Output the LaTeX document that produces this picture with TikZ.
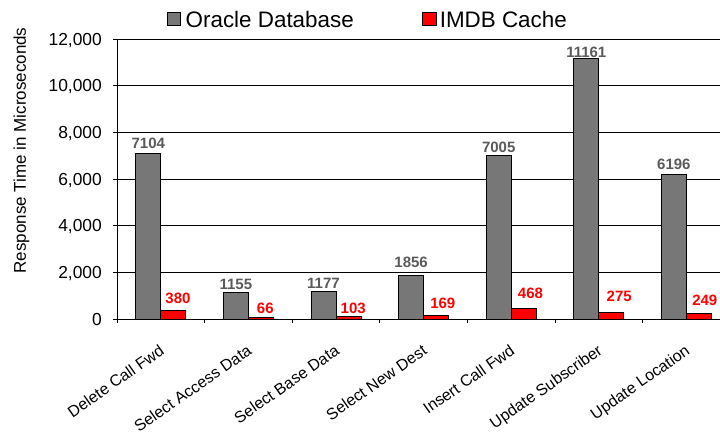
\documentclass[tikz,border=0pt]{standalone}
\usepackage{fontspec}
\setmainfont{Liberation Sans}
\usepackage{tikz}
\definecolor{oraclegray}{HTML}{777777}
\definecolor{labelgray}{HTML}{5A5A5A}
\tikzset{
  gridline/.style={line width=0.8pt},
  oraclebar/.style={draw=black, line width=0.8pt, fill=oraclegray},
  imdbbar/.style={draw=black, line width=0.8pt, fill=red},
  ticklabel/.style={anchor=east, inner sep=0pt, text height=12.5pt, text depth=0pt, font=\fontsize{17.4}{20}\selectfont},
  catlabel/.style={anchor=north east, inner sep=0pt, rotate=35, font=\fontsize{16}{19}\selectfont},
  graylabel/.style={inner sep=0pt, text height=10.7pt, text depth=0pt, text=labelgray, font=\fontsize{15}{18}\selectfont\bfseries},
  redlabel/.style={graylabel, text=red},
  legendtext/.style={anchor=west, inner sep=0pt, text height=16pt, text depth=0pt, font=\fontsize{22.4}{26}\selectfont},
}

\begin{document}
\begin{tikzpicture}[x=1pt, y=-1pt]
    \useasboundingbox (0,0) rectangle (720,433);

    % legend
    \draw[oraclebar] (167,12.3) rectangle (180.5,25.8);
    \node[legendtext] (leg oracle) at (185.5,19.2) {Oracle Database};
    \draw[imdbbar] (422.5,12.3) rectangle (436,25.8);
    \node[legendtext] (leg imdb) at (439.6,19.2) {IMDB Cache};

    % grid
    \draw[gridline] (117,39) -- (720,39);
    \draw[gridline] (117,85.67) -- (720,85.67);
    \draw[gridline] (117,132.33) -- (720,132.33);
    \draw[gridline] (117,179) -- (720,179);
    \draw[gridline] (117,225.67) -- (720,225.67);
    \draw[gridline] (117,272.33) -- (720,272.33);

    % bars, in microseconds
    \begin{scope}[shift={(117,319)}, y=0.0233333pt]
      \draw[oraclebar] (18.8,0) rectangle (43.8,7104);
      \draw[imdbbar] (43.8,0) rectangle (68.8,380);
      \draw[oraclebar] (106.4,0) rectangle (131.4,1155);
      \draw[imdbbar] (131.4,0) rectangle (156.4,66);
      \draw[oraclebar] (194,0) rectangle (219,1177);
      \draw[imdbbar] (219,0) rectangle (244,103);
      \draw[oraclebar] (281.6,0) rectangle (306.6,1856);
      \draw[imdbbar] (306.6,0) rectangle (331.6,169);
      \draw[oraclebar] (369.2,0) rectangle (394.2,7005);
      \draw[imdbbar] (394.2,0) rectangle (419.2,468);
      \draw[oraclebar] (456.8,0) rectangle (481.8,11161);
      \draw[imdbbar] (481.8,0) rectangle (506.8,275);
      \draw[oraclebar] (544.4,0) rectangle (569.4,6196);
      \draw[imdbbar] (569.4,0) rectangle (594.4,249);
    \end{scope}

    % axes
    \draw[gridline] (117,39) -- (117,323);
    \draw[gridline] (117,319) -- (720,319);
    \draw[gridline] (113,39) -- (117,39);
    \draw[gridline] (113,85.67) -- (117,85.67);
    \draw[gridline] (113,132.33) -- (117,132.33);
    \draw[gridline] (113,179) -- (117,179);
    \draw[gridline] (113,225.67) -- (117,225.67);
    \draw[gridline] (113,272.33) -- (117,272.33);
    \draw[gridline] (113,319) -- (117,319);
    \draw[gridline] (204.6,319) -- (204.6,323);
    \draw[gridline] (292.2,319) -- (292.2,323);
    \draw[gridline] (379.8,319) -- (379.8,323);
    \draw[gridline] (467.4,319) -- (467.4,323);
    \draw[gridline] (555,319) -- (555,323);
    \draw[gridline] (642.6,319) -- (642.6,323);

    \node[ticklabel] (y12) at (102,39) {12,000};
    \node[ticklabel] (y10) at (102,85.67) {10,000};
    \node[ticklabel] (y8) at (102,132.33) {8,000};
    \node[ticklabel] (y6) at (102,179) {6,000};
    \node[ticklabel] (y4) at (102,225.67) {4,000};
    \node[ticklabel] (y2) at (102,272.33) {2,000};
    \node[ticklabel] (y0) at (102,319) {0};

    \node[rotate=90, inner sep=0pt, text height=12.2pt, text depth=0pt, font=\fontsize{17}{20}\selectfont] (ytitle) at (19.7,150.5) {Response Time in Microseconds};

    % values
    \node[graylabel] (o1) at (148.3,142.7) {7104};
    \node[redlabel] (i1) at (178,297.7) {380};
    \node[graylabel] (o2) at (235.9,284) {1155};
    \node[redlabel] (i2) at (265.3,308) {66};
    \node[graylabel] (o3) at (323.5,282.7) {1177};
    \node[redlabel] (i3) at (353.2,308.3) {103};
    \node[graylabel] (o4) at (411.1,261.7) {1856};
    \node[redlabel] (i4) at (442.8,303.3) {169};
    \node[graylabel] (o5) at (498.7,146.7) {7005};
    \node[redlabel] (i5) at (530.5,292.7) {468};
    \node[graylabel] (o6) at (586.3,51.7) {11161};
    \node[redlabel] (i6) at (619.2,296) {275};
    \node[graylabel] (o7) at (673.9,164.3) {6196};
    \node[redlabel] (i7) at (704.8,300) {249};

    % categories
    \node[catlabel] (c1) at (158.6,343.5) {Delete Call Fwd};
    \node[catlabel] (c2) at (246.2,343.5) {Select Access Data};
    \node[catlabel] (c3) at (333.8,343.5) {Select Base Data};
    \node[catlabel] (c4) at (421.4,343.5) {Select New Dest};
    \node[catlabel] (c5) at (509,343.5) {Insert Call Fwd};
    \node[catlabel] (c6) at (596.6,343.5) {Update Subscriber};
    \node[catlabel] (c7) at (684.2,343.5) {Update Location};
  \end{tikzpicture}
\end{document}
